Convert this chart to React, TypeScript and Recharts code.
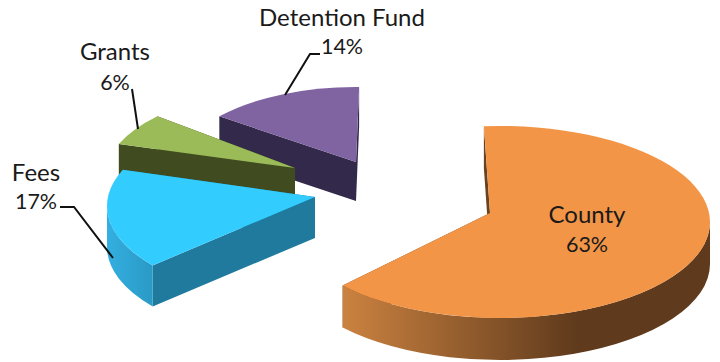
import React from "react";
import { PieChart, Pie } from "recharts";

// Funding shares, listed back-to-front so nearer wedges paint over farther ones.
const sourceNames = ["Detention Fund", "Grants", "Fees", "County"];
const sourceShares = [14, 6, 17, 63];

const CHART_W = 720;
const CHART_H = 362;
const PIE_CX = 490;
const PIE_CY = 213;
const PIE_R = 220;

type Wedge = {
  shiftX: number; shiftY: number; // explosion away from the pie centre
  radiusX: number; radiusY: number; // ellipse of the tilted rim
  leanX: number; drop: number; // rim ellipse centre relative to the wedge's tip
  turn: number; spread: number; // perspective correction of the wedge's angles
  depth: number; // thickness of the extruded wall
  top: string; wall: string; rimFrom: string; rimTo: string;
};

const wedgeStyles: Record<string, Wedge> = {
  County: { shiftX: 0, shiftY: 0, radiusX: 210 / 220, radiusY: 96 / 220, leanX: 10, drop: 9, turn: -2.4, spread: 1.027, depth: 42, top: "#f39547", wall: "#6b421f", rimFrom: "#cb8240", rimTo: "#5f3a1c" },
  Fees: { shiftX: -175, shiftY: -16, radiusX: 208 / 220, radiusY: 95 / 220, leanX: 0, drop: 9, turn: 6.5, spread: 1, depth: 41, top: "#33ccff", wall: "#1f7a9e", rimFrom: "#33afe0", rimTo: "#2a9ac6" },
  Grants: { shiftX: -195, shiftY: -45, radiusX: 190 / 220, radiusY: 88 / 220, leanX: 0, drop: 9, turn: 6, spread: 1, depth: 39, top: "#9bbb59", wall: "#404c20", rimFrom: "#404c20", rimTo: "#404c20" },
  "Detention Fund": { shiftX: -134, shiftY: -51, radiusX: 180 / 220, radiusY: 84 / 220, leanX: 0, drop: 9, turn: 3, spread: 1, depth: 39, top: "#8064a2", wall: "#33294a", rimFrom: "#33294a", rimTo: "#33294a" },
};

type Callout = { x: number; nameY: number; shareY: number; leader?: string };

const callouts: Record<string, Callout> = {
  County: { x: 587, nameY: 223, shareY: 252 },
  Fees: { x: 36, nameY: 181, shareY: 209, leader: "60,207 74,207 113,258" },
  Grants: { x: 115, nameY: 60, shareY: 90, leader: "132,89 138,129" },
  "Detention Fund": { x: 342, nameY: 26, shareY: 54, leader: "320,54 310,54 285,95" },
};

const rad = (deg: number) => (deg * Math.PI) / 180;

function WedgeShape(props: any) {
  const { cx, cy, outerRadius, startAngle, endAngle, name, index } = props;
  const s = wedgeStyles[name];
  const rx = outerRadius * s.radiusX;
  const ry = outerRadius * s.radiusY;
  const ax = cx + s.shiftX;
  const ay = cy + s.shiftY;
  const ex = ax + s.leanX;
  const ey = ay + s.drop;

  // Clockwise-from-twelve angles of the wedge, corrected for perspective.
  const span = (endAngle - startAngle) * s.spread;
  const from = ((90 - endAngle + s.turn + 90 + 720) % 360) - 90;
  const to = from + span;
  const rim = (t: number) => ({ x: ex + rx * Math.sin(rad(t)), y: ey - ry * Math.cos(rad(t)) });
  const p0 = rim(from);
  const p1 = rim(to);

  const radial = (p: { x: number; y: number }) =>
    `M${p.x},${p.y}L${ax},${ay}L${ax},${ay + s.depth}L${p.x},${p.y + s.depth}Z`;
  const walls = [p0, p1].sort((a, b) => a.y - b.y);

  // Outer wall exists only for the part of the rim facing the viewer.
  const a = Math.max(from, 90);
  const b = Math.min(to, 270);
  let rimPath = "";
  if (b > a) {
    const ra = rim(a);
    const rb = rim(b);
    const large = b - a > 180 ? 1 : 0;
    rimPath = `M${ra.x},${ra.y}A${rx},${ry} 0 ${large} 1 ${rb.x},${rb.y}L${rb.x},${rb.y + s.depth}A${rx},${ry} 0 ${large} 0 ${ra.x},${ra.y + s.depth}Z`;
  }
  const large = to - from > 180 ? 1 : 0;
  const topPath = `M${ax},${ay}L${p0.x},${p0.y}A${rx},${ry} 0 ${large} 1 ${p1.x},${p1.y}Z`;
  const gradId = `rim-${index}`;
  const left = Math.min(rim(a).x, rim(b).x);

  return (
    <g>
      <defs>
        <linearGradient id={gradId} gradientUnits="userSpaceOnUse" x1={left} y1={0} x2={left + (name === "County" ? 235 : 45)} y2={0}>
          <stop offset="0" stopColor={s.rimFrom} />
          <stop offset="1" stopColor={s.rimTo} />
        </linearGradient>
      </defs>
      {walls.map((p, i) => (
        <path key={i} d={radial(p)} fill={s.wall} />
      ))}
      {rimPath && <path d={rimPath} fill={`url(#${gradId})`} />}
      <path d={topPath} fill={s.top} />
    </g>
  );
}

function CalloutLabel(props: any) {
  const { name, percent } = props;
  const c = callouts[name];
  const family = "Lato, 'Noto Sans', sans-serif";
  return (
    <g>
      {c.leader && <polyline points={c.leader} fill="none" stroke="#111111" strokeWidth={2} />}
      <text x={c.x} y={c.nameY} textAnchor="middle" style={{ fontFamily: family, fontSize: 24, fill: "#1a1a1a" }}>{name}</text>
      <text x={c.x} y={c.shareY} textAnchor="middle" style={{ fontFamily: family, fontSize: 21.5, fill: "#1a1a1a" }}>{`${Math.round(percent * 100)}%`}</text>
    </g>
  );
}

const rows = sourceNames.map((name, i) => ({ name, value: sourceShares[i] }));

export default function App() {
  return (
    <div style={{ position: "absolute", left: 0, top: 0, width: CHART_W, height: CHART_H, background: "#ffffff" }}>
      <PieChart width={CHART_W} height={CHART_H} margin={{ top: 0, right: 0, bottom: 0, left: 0 }}>
        <Pie
          data={rows}
          dataKey="value"
          nameKey="name"
          cx={PIE_CX}
          cy={PIE_CY}
          outerRadius={PIE_R}
          startAngle={92}
          endAngle={452}
          stroke="none"
          isAnimationActive={false}
          shape={WedgeShape}
          label={CalloutLabel}
          labelLine={false}
        />
      </PieChart>
    </div>
  );
}
